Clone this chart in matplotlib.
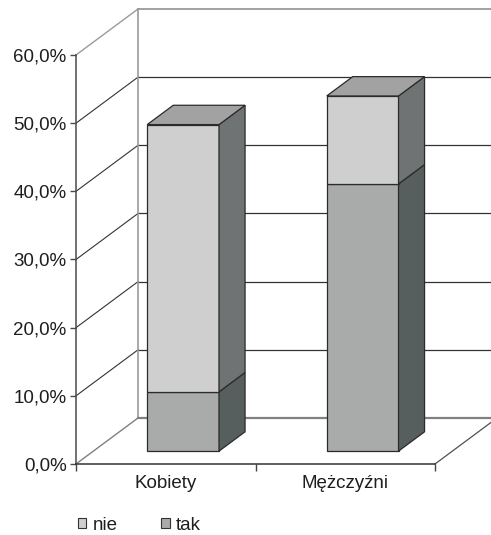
import matplotlib
matplotlib.use("Agg")
import matplotlib.pyplot as plt
from matplotlib.patches import Polygon, Patch
from matplotlib.ticker import FuncFormatter

# ---- data -------------------------------------------------------------
categories = ["Kobiety", "Mężczyźni"]
series_names = ["nie", "tak"]
tak = [8.7, 39.2]
nie = [39.2, 12.9]
y_ticks = [0, 10, 20, 30, 40, 50, 60]

# ---- style ------------------------------------------------------------
plt.rcParams["font.family"] = ["Liberation Sans", "DejaVu Sans"]
FS = 13.5
plt.rcParams["font.size"] = FS
TEXT = "#1e1e1e"
EDGE = "#2b2b2b"
GRID = "#333333"
WALL = "#9a9a9a"
# (front, side, top) shades for each series
shades = {
    "tak": ("#a9abaa", "#565f5d", "#8e908f"),
    "nie": ("#cfcfcf", "#707373", "#a2a2a2"),
}

W, H = 491, 535
fig = plt.figure(figsize=(W / 100, H / 100), dpi=100)
ax = fig.add_axes([0, 0, 1, 1])

# front plane: x in category units, y in percent
x0_px, cat_px = 76, 179.5
y0_px, pct_px = 464, 6.8167
ax.set_xlim(-x0_px / cat_px, (W - x0_px) / cat_px)
ax.set_ylim(-(H - y0_px) / pct_px, y0_px / pct_px)

# oblique depth of the chart box (data units)
DX, DY = 0.3454, 6.75
n = len(categories)
ymax = y_ticks[-1]

# ---- walls, floor and gridlines ---------------------------------------
for v in y_ticks[1:-1]:
    ax.plot([DX, n + DX], [v + DY, v + DY], color=GRID, lw=0.9, zorder=1)
    ax.plot([0, DX], [v, v + DY], color=GRID, lw=0.8, zorder=1)
# wall outline
ax.plot([DX, n + DX], [ymax + DY, ymax + DY], color=WALL, lw=1.3, zorder=1)
ax.plot([0, DX], [ymax, ymax + DY], color=WALL, lw=1.0, zorder=1)
ax.plot([DX, DX], [DY, ymax + DY], color=WALL, lw=1.2, zorder=1)
# floor
ax.plot([DX, n + DX], [DY, DY], color="#808080", lw=1.6, zorder=1)
ax.plot([0, DX], [0, DY], color="#808080", lw=1.0, zorder=1)
ax.plot([n, n + DX], [0, DY], color="#505050", lw=0.9, zorder=1)

# ---- stacked 3D bars --------------------------------------------------
width = 0.4
d0, d1 = 0.28, 0.70
for i in range(n):
    segs = [("tak", tak[i]), ("nie", nie[i])]
    base = 0.0
    for k, (name, val) in enumerate(segs):
        front, side, top = shades[name]
        lo, hi = base, base + val
        xl = i + 0.5 - width / 2 + d0 * DX
        xr = xl + width
        ya, yb = d0 * DY, d1 * DY
        sx = (d1 - d0) * DX
        kw = dict(edgecolor=EDGE, lw=0.9, joinstyle="miter", zorder=3)
        ax.add_patch(Polygon([(xl, lo + ya), (xr, lo + ya), (xr, hi + ya), (xl, hi + ya)],
                             facecolor=front, **kw))
        ax.add_patch(Polygon([(xr, lo + ya), (xr + sx, lo + yb), (xr + sx, hi + yb), (xr, hi + ya)],
                             facecolor=side, **kw))
        if k == len(segs) - 1:
            ax.add_patch(Polygon([(xl, hi + ya), (xr, hi + ya), (xr + sx, hi + yb), (xl + sx, hi + yb)],
                                 facecolor=top, **kw))
        base = hi

# ---- axes -------------------------------------------------------------
for s in ["top", "right"]:
    ax.spines[s].set_visible(False)
ax.spines["left"].set_position(("data", 0))
ax.spines["bottom"].set_position(("data", 0))
ax.spines["left"].set_bounds(0, ymax)
ax.spines["bottom"].set_bounds(0, n)
ax.spines["left"].set_color("#4a4a4a")
ax.spines["left"].set_linewidth(1.1)
ax.spines["bottom"].set_color("#333333")
ax.spines["bottom"].set_linewidth(1.1)
ax.spines["left"].set_zorder(4)
ax.spines["bottom"].set_zorder(4)

ax.set_yticks(y_ticks)
ax.yaxis.set_major_formatter(FuncFormatter(lambda v, p: f"{v:.1f}%".replace(".", ",")))
ax.tick_params(axis="y", length=4.3, width=1.0, color="#4a4a4a", pad=2.4,
               labelcolor=TEXT, labelsize=FS)

ax.set_xticks(range(n + 1))
ax.set_xticklabels([])
ax.set_xticks([i + 0.5 for i in range(n)], minor=True)
ax.set_xticklabels(categories, minor=True)
ax.tick_params(axis="x", which="major", length=5, width=1.0, color="#444444")
ax.tick_params(axis="x", which="minor", length=0, pad=8, labelcolor=TEXT, labelsize=FS)

# ---- legend -----------------------------------------------------------
handles = [Patch(facecolor=shades[nm][0], edgecolor="#333333", lw=0.8) for nm in series_names]
fig.legend(handles, series_names, loc="lower left", bbox_to_anchor=(78 / W, 1.0 / H),
           ncol=2, frameon=False, handlelength=0.45, handleheight=0.45,
           handletextpad=0.35, columnspacing=2.3, borderpad=0, borderaxespad=0,
           fontsize=FS, labelcolor=TEXT)

fig.savefig("out.png", dpi=100)
